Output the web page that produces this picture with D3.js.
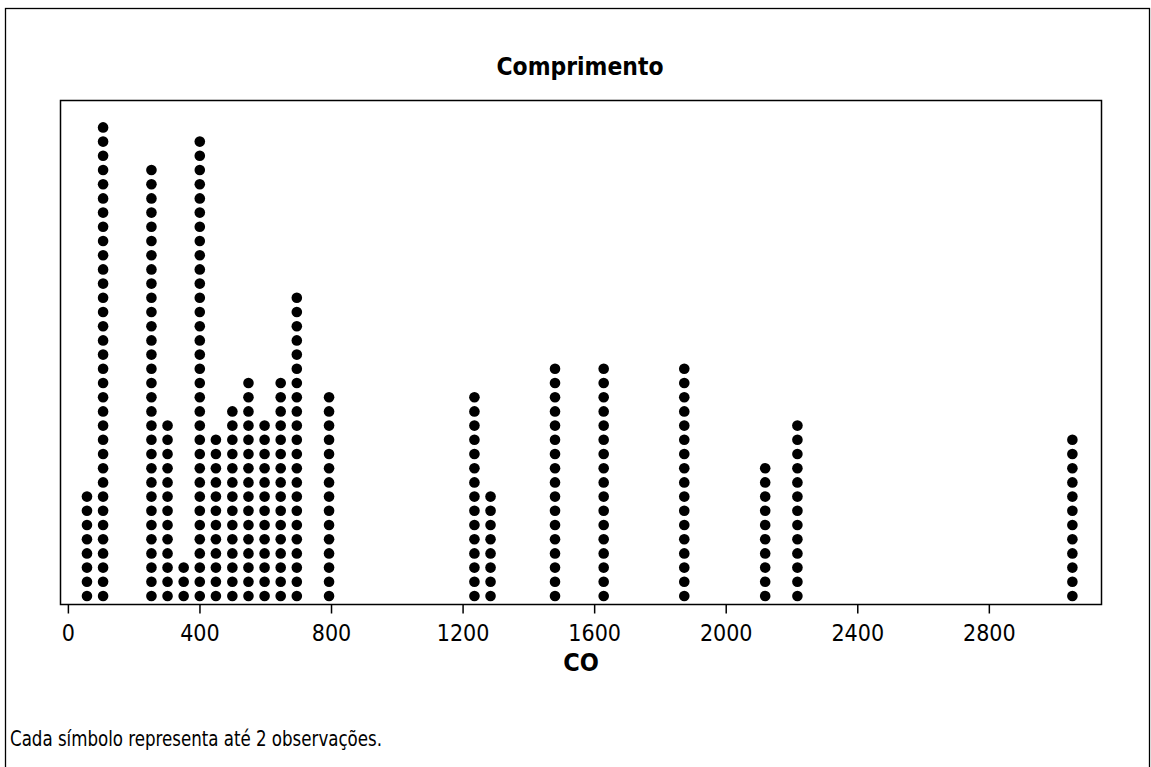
<!DOCTYPE html>
<html>
<head>
<meta charset="utf-8">
<script src="https://cdn.jsdelivr.net/npm/d3@7/dist/d3.min.js"></script>
<style>
  html, body { margin: 0; padding: 0; background: #fff; }
  svg { display: block; }
  text { font-family: "DejaVu Sans Condensed", "DejaVu Sans", sans-serif; fill: #000; }
</style>
</head>
<body>
<svg id="chart" width="1151" height="767"></svg>
<script>
// Dotplot of CO lengths: bin centres and number of symbols stacked in each bin
const binCentres = [58, 107, 254, 303, 352, 401, 450, 500, 549, 598, 647, 696, 794,
                    1236, 1285, 1481, 1629, 1874, 2120, 2218, 3054];
const symbolCounts = [8, 34, 31, 13, 3, 33, 12, 14, 16, 13, 16, 22, 15,
                      15, 8, 17, 17, 17, 10, 13, 12];
const xTicks = [0, 400, 800, 1200, 1600, 2000, 2400, 2800];
const titleText = "Comprimento";
const axisTitle = "CO";
const footnote = "Cada símbolo representa até 2 observações.";

const svg = d3.select("#chart");

// outer graph border
svg.append("rect")
  .attr("x", 5.5).attr("y", 8.5)
  .attr("width", 1144).attr("height", 770)
  .attr("fill", "none").attr("stroke", "#000").attr("stroke-width", 1.3);

const frame = { left: 60, right: 1101, top: 100, bottom: 604 };

const x = d3.scaleLinear()
  .domain([-24, 3141])
  .range([frame.left, frame.right]);

// stacked symbol index -> vertical position
const y = d3.scaleLinear()
  .domain([0, 35])
  .range([610.2, 610.2 - 35 * 14.2]);

// plot frame
svg.append("rect")
  .attr("x", frame.left + 0.5).attr("y", frame.top + 0.5)
  .attr("width", frame.right - frame.left).attr("height", frame.bottom - frame.top)
  .attr("fill", "none").attr("stroke", "#000").attr("stroke-width", 1.5);

// x axis
const axis = d3.axisBottom(x)
  .tickValues(xTicks)
  .tickSize(9)
  .tickPadding(11)
  .tickFormat(d3.format("d"));

const gAxis = svg.append("g")
  .attr("transform", `translate(0,${frame.bottom + 0.5})`)
  .call(axis);
gAxis.select(".domain").remove();
gAxis.selectAll(".tick line").attr("stroke", "#000").attr("stroke-width", 1.5);
gAxis.selectAll(".tick text")
  .style("font-family", "'DejaVu Sans Condensed', 'DejaVu Sans', sans-serif")
  .style("font-size", "23px")
  .attr("fill", "#000");

// dots
const points = [];
binCentres.forEach((c, i) => {
  for (let k = 1; k <= symbolCounts[i]; k++) points.push({ c, k });
});

svg.append("g").selectAll("circle")
  .data(points)
  .enter().append("circle")
  .attr("cx", d => x(d.c))
  .attr("cy", d => y(d.k))
  .attr("r", 5.3)
  .attr("fill", "#000");

// titles
svg.append("text")
  .attr("x", 580).attr("y", 75)
  .attr("text-anchor", "middle")
  .attr("textLength", 167).attr("lengthAdjust", "spacingAndGlyphs")
  .style("font-size", "24px").style("font-weight", "bold")
  .text(titleText);

svg.append("text")
  .attr("x", 581).attr("y", 671)
  .attr("text-anchor", "middle")
  .style("font-size", "25px").style("font-weight", "bold")
  .text(axisTitle);

svg.append("text")
  .attr("x", 10).attr("y", 746)
  .attr("textLength", 372).attr("lengthAdjust", "spacingAndGlyphs")
  .style("font-size", "20.5px")
  .text(footnote);
</script>
</body>
</html>
